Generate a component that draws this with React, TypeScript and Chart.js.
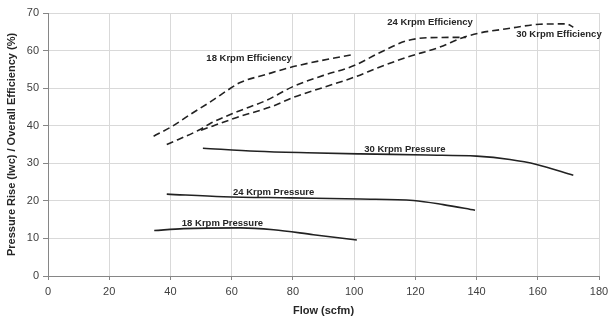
import React, { useEffect, useRef } from "react";
import { Chart, registerables } from "chart.js";

Chart.register(...registerables);

// Flow (scfm) / value pairs
const eff18Flow = [34.5, 40.5, 46.5, 53.5, 59.5, 62.8, 71.5, 79.1, 89.0, 99.5];
const eff18Val = [37.2, 39.8, 43.0, 46.6, 49.9, 51.5, 53.7, 55.5, 57.3, 58.9];

const eff24Flow = [38.8, 49.7, 53.0, 61.7, 71.5, 80.0, 90.0, 100.0, 108.5, 117.2, 123.7, 132.3, 136.5];
const eff24Val = [35.0, 39.0, 40.6, 43.7, 46.8, 50.4, 53.4, 56.0, 59.5, 62.6, 63.4, 63.5, 63.5];

const eff30Flow = [50.0, 61.7, 73.7, 80.0, 90.0, 100.0, 108.0, 117.2, 127.9, 135.7, 141.1, 149.9, 160.7, 169.4, 171.6];
const eff30Val = [38.8, 42.2, 45.3, 47.5, 50.2, 52.9, 55.5, 58.2, 60.9, 63.5, 64.7, 65.8, 67.0, 67.1, 66.2];

const pr18Flow = [34.7, 44.3, 62.8, 73.7, 86.7, 100.9];
const pr18Val = [12.1, 12.6, 12.8, 12.3, 11.0, 9.6];

const pr24Flow = [38.8, 57.3, 79.1, 102, 119.4, 129.1, 139.5];
const pr24Val = [21.8, 21.1, 20.8, 20.5, 20.1, 19.0, 17.5];

const pr30Flow = [50.6, 68.2, 84.6, 102, 123.7, 140, 150.9, 159.6, 171.6];
const pr30Val = [34.0, 33.2, 32.8, 32.5, 32.2, 31.9, 31.0, 29.7, 26.8];

// Curve labels (text and anchor in data units)
const labelTexts = [
  "18 Krpm Efficiency",
  "24 Krpm Efficiency",
  "30 Krpm Efficiency",
  "30 Krpm Pressure",
  "24 Krpm Pressure",
  "18 Krpm Pressure",
];
const labelFlow = [65.7, 124.8, 166.9, 116.6, 73.7, 57.0];
const labelVal = [57.9, 67.4, 64.3, 33.7, 22.3, 14.1];

const xTitle = "Flow (scfm)";
const yTitle = "Pressure Rise (Iwc) / Overall Efficiency (%)";

const toPts = (xs: number[], ys: number[]) => xs.map((x, i) => ({ x, y: ys[i] }));

const LINE = "#222222";
const FONT = "'Liberation Sans', Arial, sans-serif";

export default function App() {
  const ref = useRef<HTMLCanvasElement | null>(null);

  useEffect(() => {
    if (!ref.current) return;

    const labelPlugin = {
      id: "curveLabels",
      afterDatasetsDraw(chart: any) {
        const { ctx, scales } = chart;
        ctx.save();
        ctx.font = `bold 9.5px ${FONT}`;
        ctx.fillStyle = "#262626";
        ctx.textAlign = "center";
        ctx.textBaseline = "middle";
        labelTexts.forEach((t, i) => {
          ctx.fillText(t, scales.x.getPixelForValue(labelFlow[i]), scales.y.getPixelForValue(labelVal[i]));
        });
        ctx.restore();
      },
    };

    const dashed = (data: any) => ({
      data,
      borderColor: LINE,
      borderWidth: 1.6,
      borderDash: [7, 4],
      pointRadius: 0,
      fill: false,
      cubicInterpolationMode: "monotone" as const,
    });
    const solid = (data: any) => ({
      data,
      borderColor: LINE,
      borderWidth: 1.6,
      pointRadius: 0,
      fill: false,
      cubicInterpolationMode: "monotone" as const,
    });

    const chart = new Chart(ref.current, {
      type: "line",
      data: {
        datasets: [
          dashed(toPts(eff18Flow, eff18Val)),
          dashed(toPts(eff24Flow, eff24Val)),
          dashed(toPts(eff30Flow, eff30Val)),
          solid(toPts(pr18Flow, pr18Val)),
          solid(toPts(pr24Flow, pr24Val)),
          solid(toPts(pr30Flow, pr30Val)),
        ],
      },
      options: {
        responsive: false,
        animation: false,
        devicePixelRatio: 1,
        layout: { padding: { top: 13, right: 9, left: 0, bottom: 0 } },
        plugins: { legend: { display: false }, tooltip: { enabled: false } },
        scales: {
          x: {
            type: "linear",
            min: 0,
            max: 180,
            ticks: {
              stepSize: 20,
              padding: 5,
              color: "#404040",
              font: { family: FONT, size: 11 },
              maxRotation: 0,
            },
            grid: { color: "#d9d9d9", tickColor: "#868686", tickLength: 4, lineWidth: 1 },
            border: { color: "#868686" },
            title: {
              display: true,
              text: xTitle,
              color: "#262626",
              font: { family: FONT, size: 11, weight: "bold" },
              padding: { top: 0, bottom: 3 },
            },
            afterFit(scale: any) {
              scale.height = 45;
              scale.paddingLeft = 0;
              scale.paddingRight = 0;
            },
          },
          y: {
            min: 0,
            max: 70,
            ticks: {
              stepSize: 10,
              padding: 4,
              color: "#404040",
              font: { family: FONT, size: 11 },
            },
            grid: { color: "#d9d9d9", tickColor: "#868686", tickLength: 5, lineWidth: 1 },
            border: { color: "#868686" },
            title: {
              display: true,
              text: yTitle,
              color: "#262626",
              font: { family: FONT, size: 11, weight: "bold" },
              padding: { top: 5, bottom: 0 },
            },
            afterFit(scale: any) {
              scale.width = 48;
              scale.paddingTop = 0;
              scale.paddingBottom = 0;
            },
          },
        },
      },
      plugins: [labelPlugin],
    });

    return () => chart.destroy();
  }, []);

  return (
    <div style={{ position: "fixed", left: 0, top: 0, width: 608, height: 321, background: "#fff" }}>
      <canvas ref={ref} width={608} height={321} style={{ display: "block" }} />
    </div>
  );
}
